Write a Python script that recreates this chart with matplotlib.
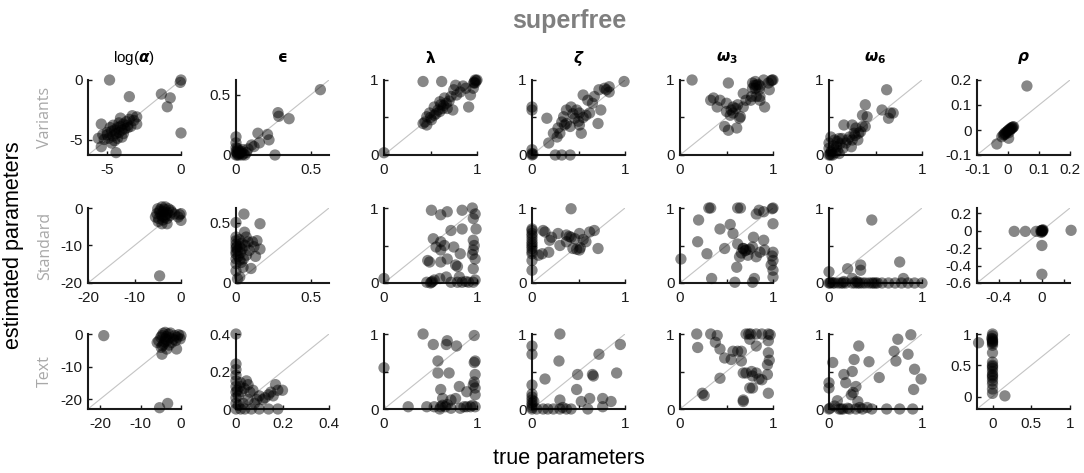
import matplotlib
matplotlib.use('Agg')
import matplotlib.pyplot as plt
import numpy as np

plt.rcParams['font.family'] = ['Liberation Sans', 'DejaVu Sans']
plt.rcParams['mathtext.fontset'] = 'dejavusans'

# ---- data: (true, estimated) pairs, one list per panel ----
# row 1: Variants
var_logalpha = [(-4.84, 0.0), (0.0, 0.0), (-0.05, -0.2), (-1.33, -1.18), (-0.73, -1.5), (-0.93, -2.25),
                (0.0, -4.45), (-3.5, -1.4), (-4.4, -6.1), (-5.4, -5.6), (-5.4, -3.7),
                (-5.2, -5.0), (-5.0, -4.6), (-4.9, -4.9), (-4.7, -4.3), (-4.6, -4.7), (-4.5, -4.2),
                (-4.4, -4.5), (-4.3, -4.0), (-4.2, -4.4), (-4.1, -3.9), (-4.0, -4.2), (-3.9, -3.7),
                (-3.8, -4.1), (-3.7, -3.5), (-3.6, -3.8), (-3.5, -3.3), (-3.3, -3.0), (-3.2, -3.4),
                (-5.3, -4.6), (-4.8, -4.0), (-4.5, -5.1), (-4.2, -3.6), (-4.0, -4.8), (-3.9, -4.5),
                (-3.6, -4.0), (-4.6, -3.8), (-4.3, -4.9), (-5.0, -4.4), (-4.1, -3.2), (-3.4, -3.9),
                (-3.0, -3.7), (-5.6, -4.9), (-3.0, -3.1), (-4.7, -5.3)]
var_eps = [(0.5625, 0.54), (0.28, 0.35), (0.285, 0.32), (0.354, 0.30), (0.146, 0.18), (0.21, 0.17),
           (0.22, 0.125), (0.156, 0.10), (0.104, 0.083), (0.26, 0.0), (0.0, 0.15), (0.0, 0.10),
           (0.01, 0.055), (0.0, 0.0), (0.01, 0.01), (0.02, 0.0), (0.03, 0.02), (0.0, 0.03), (0.04, 0.0),
           (0.05, 0.01), (0.015, 0.04), (0.06, 0.0), (0.025, 0.015), (0.0, 0.06), (0.07, 0.02),
           (0.035, 0.03), (0.01, 0.0), (0.005, 0.02), (0.045, 0.045), (0.08, 0.05), (0.12, 0.07)]
var_lambda = [(0.0, 0.03), (0.42, 0.98), (0.62, 0.98), (0.77, 0.93), (0.965, 0.96), (0.97, 0.97),
              (0.96, 0.89), (0.91, 0.64), (0.93, 0.8), (0.75, 0.87), (0.72, 0.78), (0.65, 0.76),
              (0.6, 0.71), (0.54, 0.64), (0.58, 0.6), (0.63, 0.62), (0.68, 0.62), (0.74, 0.6),
              (0.49, 0.56), (0.46, 0.51), (0.42, 0.42), (0.46, 0.4), (0.51, 0.47), (0.54, 0.53),
              (0.61, 0.67), (0.67, 0.69), (0.82, 0.84), (0.88, 0.89), (0.98, 0.96), (0.99, 0.99),
              (1.0, 1.0), (0.98, 1.0), (0.64, 0.66), (0.6, 0.58), (0.56, 0.55), (0.7, 0.72),
              (0.78, 0.8), (0.85, 0.92), (0.5, 0.5), (0.44, 0.44)]
var_zeta = [(0.0, 0.64), (0.0, 0.6), (0.0, 0.07), (0.0, 0.0), (0.01, 0.01), (0.0, 0.02), (0.16, 0.49),
            (0.18, 0.16), (0.27, 0.24), (0.3, 0.29), (0.32, 0.0), (0.41, 0.0), (0.25, 0.0), (0.34, 0.51),
            (0.37, 0.6), (0.42, 0.64), (0.48, 0.6), (0.51, 0.56), (0.55, 0.8), (0.6, 0.73), (0.65, 0.69),
            (0.72, 0.87), (0.78, 0.89), (0.83, 0.84), (0.99, 0.98), (0.74, 0.6), (0.71, 0.42),
            (0.53, 0.29), (0.41, 0.38), (0.37, 0.42), (0.46, 0.49), (0.58, 0.53), (0.62, 0.56),
            (0.32, 0.44), (0.28, 0.36), (0.23, 0.29), (0.51, 0.4), (0.67, 0.78), (0.83, 0.91),
            (0.8, 0.87), (0.44, 0.55), (0.5, 0.45), (0.55, 0.5), (0.35, 0.4)]
var_omega3 = [(0.13, 1.0), (0.52, 0.96), (0.36, 0.76), (0.33, 0.73), (0.43, 0.73), (0.5, 0.69),
              (0.57, 0.64), (0.62, 0.67), (0.64, 0.49), (0.54, 0.53), (0.4, 0.64), (0.48, 0.38),
              (0.61, 0.36), (0.52, 0.33), (0.5, 0.58), (0.57, 0.56), (0.68, 0.82), (0.71, 0.73),
              (0.78, 0.89), (0.78, 0.96), (0.82, 0.93), (0.76, 0.73), (0.82, 0.78), (0.81, 0.98),
              (1.0, 1.0), (0.99, 1.0), (0.98, 0.99), (0.9, 1.0), (0.95, 0.96), (0.8, 0.93), (0.85, 0.87),
              (0.77, 0.78), (0.86, 0.73), (0.91, 0.64), (0.68, 0.64), (0.65, 0.51), (0.81, 0.89),
              (0.96, 0.87), (0.86, 0.78), (0.55, 0.6), (0.6, 0.62), (0.84, 0.94), (0.86, 0.92)]
var_omega6 = [(0.62, 0.87), (0.57, 0.6), (0.66, 0.56), (0.69, 0.56), (0.64, 0.49), (0.39, 0.67),
              (0.36, 0.53), (0.41, 0.51), (0.16, 0.4), (0.25, 0.4), (0.29, 0.36), (0.36, 0.38),
              (0.39, 0.38), (0.32, 0.29), (0.31, 0.2), (0.24, 0.11), (0.11, 0.02), (0.02, 0.24),
              (0.0, 0.16), (0.0, 0.09), (0.0, 0.0), (0.01, 0.01), (0.02, 0.0), (0.06, 0.2), (0.11, 0.22),
              (0.18, 0.16), (0.15, 0.09), (0.08, 0.11), (0.22, 0.24), (0.27, 0.29), (0.34, 0.31),
              (0.25, 0.2), (0.02, 0.04), (0.04, 0.0), (0.09, 0.06), (0.05, 0.12), (0.12, 0.15),
              (0.2, 0.2), (0.28, 0.26), (0.03, 0.06), (0.07, 0.03), (0.14, 0.22), (0.09, 0.18)]
var_rho = [(0.061, 0.176), (-0.036, -0.056), (0.002, -0.033), (-0.02, -0.027), (-0.015, -0.02),
           (-0.01, -0.012), (-0.005, -0.008), (0.0, -0.002), (0.004, 0.002), (0.008, 0.006),
           (0.012, 0.01), (0.016, 0.012), (-0.012, -0.018), (0.006, 0.0), (0.01, 0.004),
           (-0.002, -0.006), (0.014, 0.008), (0.018, 0.013), (-0.008, -0.016), (0.003, -0.01)]

# row 2: Standard
std_logalpha = [(-4.6, -18.1), (0.0, -1.5), (0.0, -3.3), (-0.6, -2.4), (-2.0, -1.1), (-4.8, -2.8),
                (-4.1, -4.2), (-3.0, -4.2), (-5.2, -1.5), (-4.1, 0.3), (-3.4, 0.3), (-2.7, -0.2),
                (-4.5, -0.5), (-3.8, -1.0), (-3.2, -1.8), (-4.0, -2.2), (-4.6, -1.0), (-3.6, -0.3),
                (-2.9, -1.3), (-5.0, -0.2), (-4.3, -1.8), (-3.0, -2.8), (-2.4, -2.0), (-1.4, -1.6),
                (-0.3, -1.8), (-3.9, -3.2), (-4.9, -3.6), (-5.5, -2.4), (-3.5, -2.5), (-2.2, -0.6)]
std_eps = [(0.053, 0.57), (0.16, 0.49), (0.0, 0.5), (0.057, 0.42), (0.068, 0.38), (0.0, 0.38),
           (0.0, 0.35), (0.0, 0.32), (0.0, 0.29), (0.0, 0.26), (0.0, 0.24), (0.0, 0.2), (0.0, 0.16),
           (0.1, 0.12), (0.025, 0.05), (0.01, 0.035), (0.13, 0.22), (0.16, 0.28), (0.11, 0.34),
           (0.14, 0.35), (0.025, 0.19), (0.047, 0.13), (0.089, 0.27), (0.12, 0.3), (0.025, 0.3),
           (0.01, 0.27), (0.03, 0.25), (0.04, 0.33), (0.02, 0.36), (0.06, 0.31), (0.07, 0.23),
           (0.015, 0.22), (0.005, 0.3), (0.04, 0.28), (0.08, 0.34), (0.0, 0.1), (0.035, 0.17), (0.05, 0.2)]
std_lambda = [(0.51, 0.97), (0.61, 0.91), (0.68, 0.95), (0.84, 0.97), (0.95, 1.0), (0.98, 0.92),
              (0.96, 0.86), (0.99, 0.72), (0.96, 0.57), (0.96, 0.44), (0.98, 0.32), (0.96, 0.19),
              (0.98, 0.04), (0.72, 0.7), (0.84, 0.72), (0.53, 0.59), (0.56, 0.48), (0.61, 0.55),
              (0.61, 0.44), (0.65, 0.5), (0.75, 0.48), (0.82, 0.39), (0.47, 0.3), (0.49, 0.28),
              (0.61, 0.28), (0.68, 0.32), (0.77, 0.24), (0.79, 0.22), (0.0, 0.06), (0.46, 0.01),
              (0.51, 0.01), (0.54, 0.04), (0.6, 0.06), (0.72, 0.01), (0.79, 0.01), (0.84, 0.01),
              (0.91, 0.01), (0.96, 0.01), (0.81, 0.08), (0.67, 0.08), (0.5, 0.0), (0.52, 0.02),
              (0.97, 0.5), (0.95, 0.38), (0.88, 0.02)]
std_zeta = [(0.42, 0.99), (0.0, 0.72), (0.0, 0.66), (0.0, 0.59), (0.0, 0.52), (0.0, 0.46), (0.0, 0.39),
            (0.0, 0.3), (0.0, 0.17), (0.0, 0.7), (0.0, 0.63), (0.0, 0.55), (0.0, 0.49), (0.0, 0.42),
            (0.12, 0.7), (0.14, 0.68), (0.21, 0.61), (0.28, 0.66), (0.37, 0.64), (0.42, 0.61),
            (0.51, 0.66), (0.62, 0.68), (0.67, 0.7), (0.19, 0.57), (0.3, 0.5), (0.37, 0.55),
            (0.46, 0.59), (0.58, 0.55), (0.71, 0.46), (0.51, 0.44), (0.44, 0.46), (0.11, 0.39),
            (0.18, 0.41), (0.07, 0.37), (0.48, 0.45), (0.52, 0.47), (0.4, 0.62), (0.55, 0.58)]
std_omega3 = [(0.31, 1.0), (0.33, 1.0), (0.62, 1.0), (0.2, 0.84), (0.43, 0.72), (0.54, 0.78),
              (0.19, 0.55), (0.29, 0.39), (0.48, 0.46), (0.57, 0.66), (0.62, 0.52), (0.68, 0.46),
              (0.71, 0.44), (0.64, 0.35), (0.61, 0.21), (0.59, 0.01), (0.34, 0.06), (0.01, 0.32),
              (0.78, 0.01), (0.82, 0.92), (0.78, 0.48), (0.82, 0.35), (0.65, 1.0), (0.85, 0.97),
              (0.9, 0.95), (1.0, 1.0), (0.99, 0.99), (1.0, 0.79), (0.79, 0.61), (0.9, 0.57), (0.91, 0.44),
              (1.0, 0.41), (1.0, 0.3), (0.98, 0.24), (1.0, 0.17), (1.0, 0.08), (0.8, 0.06), (0.68, 0.46),
              (0.73, 0.37), (0.86, 0.41), (0.7, 0.43), (0.66, 0.4), (0.75, 0.45), (0.99, 0.36)]
std_omega6 = [(0.46, 0.84), (0.76, 0.28), (0.2, 0.19), (0.34, 0.24), (0.34, 0.17), (0.0, 0.15),
              (0.0, 0.0), (0.01, 0.0), (0.02, 0.01), (0.06, 0.0), (0.13, 0.0), (0.18, 0.0), (0.25, 0.0),
              (0.31, 0.0), (0.36, 0.0), (0.43, 0.0), (0.46, 0.0), (0.5, 0.0), (0.57, 0.0), (0.64, 0.0),
              (0.71, 0.0), (0.78, 0.0), (0.85, 0.0), (0.92, 0.0), (1.0, 0.0), (0.8, 0.06), (0.25, 0.06),
              (0.15, 0.0), (0.1, 0.0), (0.28, 0.0), (0.33, 0.0), (0.48, 0.0), (0.52, 0.0), (0.3, 0.02),
              (0.04, 0.0), (0.16, 0.02), (0.39, 0.0)]
std_rho = [(-0.256, -0.008), (-0.153, -0.008), (-0.053, -0.008), (0.0, 0.0), (0.0, -0.01),
           (0.005, 0.005), (-0.005, -0.02), (0.008, -0.005), (0.27, 0.004), (0.0, -0.17),
           (0.0, -0.5), (0.01, 0.01), (-0.01, 0.0)]

# row 3: Text
txt_logalpha = [(-19.1, -0.5), (-5.3, -22.6), (-3.3, -21.3), (-4.7, -0.5), (-3.9, 0.5), (-3.1, 0.0),
                (-5.5, -2.1), (-4.9, -4.1), (-4.7, -6.2), (-3.5, -4.6), (-1.1, -4.6), (-0.2, -1.5),
                (0.0, -0.5), (-1.5, -0.5), (-2.3, -2.6), (-3.9, -1.5), (-4.3, -3.1), (-5.9, -2.6),
                (-2.8, -1.2), (-1.9, -1.6), (-4.4, 0.2), (-3.6, -0.8), (-4.1, -2.4), (-0.6, -0.2),
                (-3.0, -3.4), (-4.6, -3.6), (-2.6, 0.3), (-5.0, -1.0), (-3.4, -2.0), (-0.9, -1.0),
                (-1.3, -2.0)]
txt_eps = [(0.0, 0.4), (0.0, 0.24), (0.0, 0.21), (0.0, 0.18), (0.0, 0.15), (0.0, 0.12), (0.0, 0.09),
           (0.0, 0.06), (0.0, 0.03), (0.0, 0.0), (0.045, 0.15), (0.052, 0.13), (0.073, 0.1),
           (0.1, 0.07), (0.115, 0.05), (0.17, 0.13), (0.2, 0.1), (0.18, 0.1), (0.14, 0.076),
           (0.125, 0.06), (0.18, 0.0), (0.14, 0.0), (0.1, 0.0), (0.066, 0.0), (0.038, 0.0),
           (0.017, 0.12), (0.024, 0.094), (0.01, 0.07), (0.031, 0.03), (0.08, 0.03), (0.052, 0.05),
           (0.06, 0.09), (0.02, 0.14), (0.035, 0.11), (0.09, 0.05), (0.15, 0.09), (0.16, 0.07),
           (0.005, 0.1), (0.01, 0.02), (0.02, 0.0)]
txt_lambda = [(0.0, 0.55), (0.42, 1.0), (0.53, 0.86), (0.68, 0.91), (0.67, 0.86), (0.78, 0.84),
              (0.97, 0.98), (0.58, 0.64), (0.58, 0.48), (0.7, 0.48), (0.98, 0.64), (0.97, 0.62),
              (0.98, 0.46), (0.96, 0.32), (0.98, 0.28), (0.98, 0.19), (0.61, 0.26), (0.81, 0.3),
              (0.89, 0.23), (0.72, 0.12), (0.63, 0.14), (0.77, 0.14), (0.26, 0.03), (0.46, 0.03),
              (0.54, 0.03), (0.61, 0.03), (0.66, 0.03), (0.72, 0.01), (0.86, 0.03), (0.89, 0.03),
              (0.93, 0.03), (0.98, 0.03), (0.82, 0.01), (0.63, 0.05), (0.95, 0.05), (0.97, 0.36),
              (0.6, 0.0), (0.68, 0.06)]
txt_zeta = [(0.3, 1.0), (0.0, 0.84), (0.0, 0.73), (0.29, 0.64), (0.95, 0.86), (0.72, 0.73), (0.49, 0.46),
            (0.65, 0.46), (0.66, 0.44), (0.91, 0.48), (0.14, 0.4), (0.0, 0.32), (0.48, 0.26), (0.3, 0.12),
            (0.0, 0.2), (0.0, 0.16), (0.0, 0.12), (0.0, 0.08), (0.0, 0.05), (0.0, 0.02), (0.0, 0.0),
            (0.12, 0.0), (0.17, 0.0), (0.23, 0.0), (0.3, 0.0), (0.37, 0.0), (0.42, 0.0), (0.53, 0.1),
            (0.62, 0.14), (0.76, 0.14), (0.85, 0.1), (0.6, 0.0), (0.76, 0.03), (0.05, 0.0), (0.02, 0.1),
            (0.33, 0.02)]
txt_omega3 = [(0.18, 1.0), (0.33, 1.0), (0.4, 0.98), (0.19, 0.82), (0.38, 0.89), (0.43, 0.8),
              (0.48, 0.68), (0.55, 0.66), (0.57, 0.77), (0.62, 0.77), (0.66, 0.64), (0.71, 0.48),
              (0.78, 0.44), (0.82, 0.48), (0.43, 0.41), (0.68, 0.12), (0.24, 0.21), (0.26, 0.18),
              (0.78, 0.28), (0.71, 1.0), (0.74, 1.0), (0.76, 1.0), (0.82, 1.0), (0.88, 1.0), (0.95, 1.0),
              (0.97, 0.99), (0.95, 0.91), (0.95, 0.75), (0.94, 0.59), (0.94, 0.46), (0.88, 0.39),
              (0.95, 0.21), (0.75, 0.28), (0.77, 0.5), (0.68, 0.48), (0.66, 0.77), (0.68, 0.1),
              (0.82, 0.84), (0.75, 0.93), (0.85, 0.4), (0.96, 0.65)]
txt_omega6 = [(0.88, 0.99), (0.74, 0.93), (0.7, 0.77), (0.85, 0.73), (0.72, 0.64), (0.92, 0.53),
              (0.99, 0.4), (0.91, 0.26), (0.54, 0.42), (0.43, 0.63), (0.32, 0.84), (0.27, 0.66),
              (0.25, 0.5), (0.16, 0.46), (0.29, 0.3), (0.24, 0.19), (0.18, 0.35), (0.04, 0.62),
              (0.0, 0.35), (0.0, 0.28), (0.0, 0.0), (0.01, 0.01), (0.09, 0.11), (0.11, 0.0), (0.15, 0.0),
              (0.22, 0.0), (0.29, 0.0), (0.36, 0.0), (0.41, 0.02), (0.46, 0.0), (0.62, 0.0), (0.76, 0.0),
              (0.9, 0.0), (0.31, 0.1), (0.13, 0.0), (0.2, 0.01), (0.26, 0.22), (0.33, 0.02), (0.06, 0.04)]
txt_rho = [(-0.18, 0.86), (0.16, 0.01), (0.0, 1.0), (0.0, 0.97), (0.0, 0.92), (0.0, 0.88), (0.0, 0.85),
           (0.0, 0.82), (0.0, 0.7), (0.0, 0.55), (0.0, 0.5), (0.0, 0.45), (0.0, 0.4), (0.0, 0.35),
           (0.0, 0.3), (0.0, 0.25), (0.0, 0.2), (0.0, 0.12), (0.0, 0.05), (0.0, 0.9), (0.0, 0.87),
           (0.0, 0.48), (0.0, 0.33), (-0.01, 0.93)]

col_titles = [r'log($\boldsymbol{\alpha}$)', r'$\boldsymbol{ϵ}$', r'$\boldsymbol{\lambda}$',
              r'$\boldsymbol{\zeta}$', r'$\boldsymbol{\omega}_\mathbf{3}$',
              r'$\boldsymbol{\omega}_\mathbf{6}$', r'$\boldsymbol{\rho}$']
row_names = ['Variants', 'Standard', 'Text']

panels = [
    [var_logalpha, var_eps, var_lambda, var_zeta, var_omega3, var_omega6, var_rho],
    [std_logalpha, std_eps, std_lambda, std_zeta, std_omega3, std_omega6, std_rho],
    [txt_logalpha, txt_eps, txt_lambda, txt_zeta, txt_omega3, txt_omega6, txt_rho],
]

unit = ((0, 1), [0, 0.5, 1], ['0', '', '1'])
# (limits, ticks, tick labels) per panel
axis_cfg = [
    [((-6.3, 0), [-5, 0], ['-5', '0']), ((0, 0.62), [0, 0.5], ['0', '0.5']), unit, unit, unit, unit,
     ((-0.1, 0.2), [-0.1, 0, 0.1, 0.2], ['-0.1', '0', '0.1', '0.2'])],
    [((-20, 0), [-20, -10, 0], ['-20', '-10', '0']), ((0, 0.62), [0, 0.5], ['0', '0.5']), unit, unit,
     unit, unit, ((-0.6, 0.26), [-0.6, -0.4, -0.2, 0, 0.2], ['-0.6', '-0.4', '-0.2', '0', '0.2'])],
    [((-23, 0), [-20, -10, 0], ['-20', '-10', '0']), ((0, 0.4), [0, 0.2, 0.4], ['0', '0.2', '0.4']),
     unit, unit, unit, unit, ((-0.2, 1), [0, 0.5, 1], ['0', '0.5', '1'])],
]

W, H = 1084.0, 473.0
lefts = [88, 236, 384, 532, 680, 829, 977]
tops = [80, 208, 334]
aw, ah = 93, 75

fig = plt.figure(figsize=(W / 100, H / 100), dpi=100)

for r in range(3):
    for c in range(7):
        ax = fig.add_axes([lefts[c] / W, 1 - (tops[r] + ah) / H, aw / W, ah / H])
        (lo, hi), ticks, labels = axis_cfg[r][c]
        pts = np.array(panels[r][c])
        ax.plot([lo, hi], [lo, hi], color='#c4c4c4', lw=0.8, zorder=1)
        ax.scatter(pts[:, 0], pts[:, 1], s=66, c='k', alpha=0.47, edgecolors='none',
                   clip_on=False, zorder=3)
        ax.set_xlim(lo, hi)
        ax.set_ylim(lo, hi)
        ax.set_yticks(ticks)
        ax.set_yticklabels(labels)
        if r == 1 and c == 6:
            ax.set_xticks([-0.6, -0.4, -0.2, 0, 0.2])
            ax.set_xticklabels(['', '-0.4', '', '0', ''])
        else:
            ax.set_xticks(ticks)
            ax.set_xticklabels(labels)
        for s in ['top', 'right']:
            ax.spines[s].set_visible(False)
        for s in ['left', 'bottom']:
            ax.spines[s].set_linewidth(1.5)
            ax.spines[s].set_color('#1a1a1a')
        ax.tick_params(direction='in', length=3, width=1, labelsize=11, colors='#1a1a1a')
        ax.tick_params(axis='x', pad=6)
        ax.tick_params(axis='y', pad=4)
        ax.patch.set_alpha(0)

        if r == 0:
            fig.text((lefts[c] + aw / 2) / W, 1 - 58 / H, col_titles[c], ha='center', va='center',
                     fontsize=11)
    fig.text(45 / W, 1 - (tops[r] + ah / 2) / H, row_names[r], rotation=90, ha='center', va='center',
             color='#a8a8a8', fontsize=11.5, family=['Open Sans', 'DejaVu Sans'])

fig.text(569 / W, 1 - 21 / H, 'superfree', ha='center', va='center', fontsize=18,
         fontweight='bold', color='#7f7f7f')
fig.text(569 / W, 1 - 458 / H, 'true parameters', ha='center', va='center', fontsize=15.5)
fig.text(14 / W, 1 - 245 / H, 'estimated parameters', rotation=90, ha='center', va='center',
         fontsize=15.5)

fig.savefig('out.png', dpi=100)
